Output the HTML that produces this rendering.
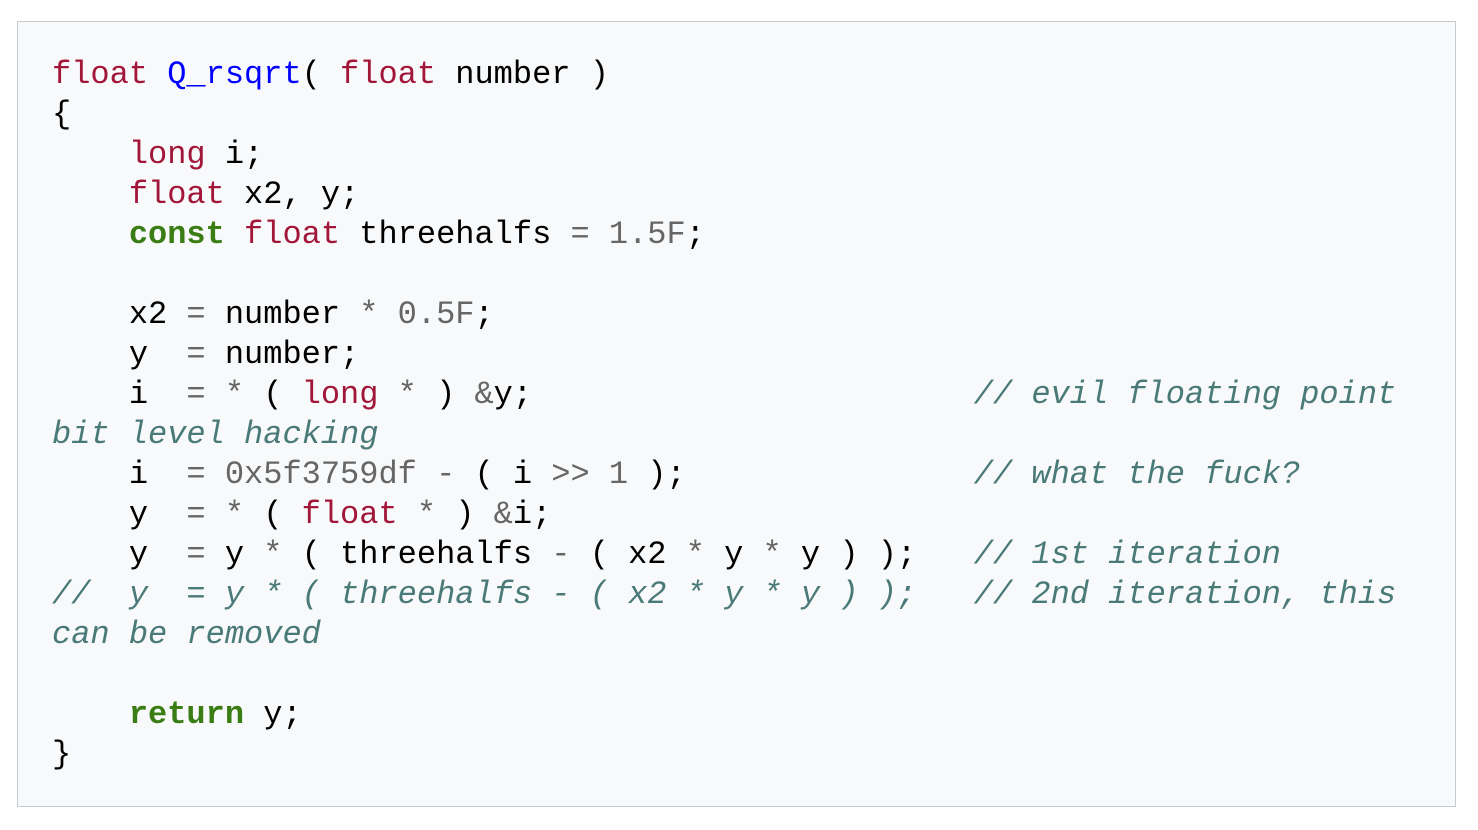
<!DOCTYPE html>
<html><head><meta charset="utf-8"><style>
html,body{margin:0;padding:0;background:#fff;width:1478px;height:830px;overflow:hidden}
.box{position:absolute;left:17px;top:21px;width:1439px;height:786px;border:1px solid #c8ccd1;background:#f8f9fa;box-sizing:border-box}
pre{position:absolute;left:34px;top:33px;margin:0;font-family:"Liberation Mono",monospace;font-size:32px;line-height:40px;color:#000;white-space:pre}
.k{color:#a2163a}.f{color:#0000ff}.g{color:#3a7d14;font-weight:bold}.n{color:#666}.o{color:#666}.c{color:#4a7a78;font-style:italic}
</style></head><body><div class="box"><pre><span class="k">float</span> <span class="f">Q_rsqrt</span>( <span class="k">float</span> number )
{
    <span class="k">long</span> i;
    <span class="k">float</span> x2, y;
    <span class="g">const</span> <span class="k">float</span> threehalfs <span class="o">=</span> <span class="n">1.5F</span>;

    x2 <span class="o">=</span> number <span class="o">*</span> <span class="n">0.5F</span>;
    y  <span class="o">=</span> number;
    i  <span class="o">=</span> <span class="o">*</span> ( <span class="k">long</span> <span class="o">*</span> ) <span class="o">&amp;</span>y;                       <span class="c">// evil floating point</span>
<span class="c">bit level hacking</span>
    i  <span class="o">=</span> <span class="n">0x5f3759df</span> <span class="o">-</span> ( i <span class="o">&gt;&gt;</span> <span class="n">1</span> );               <span class="c">// what the fuck?</span>
    y  <span class="o">=</span> <span class="o">*</span> ( <span class="k">float</span> <span class="o">*</span> ) <span class="o">&amp;</span>i;
    y  <span class="o">=</span> y <span class="o">*</span> ( threehalfs <span class="o">-</span> ( x2 <span class="o">*</span> y <span class="o">*</span> y ) );   <span class="c">// 1st iteration</span>
<span class="c">//  y  = y * ( threehalfs - ( x2 * y * y ) );   // 2nd iteration, this</span>
<span class="c">can be removed</span>

    <span class="g">return</span> y;
}</pre></div></body></html>
